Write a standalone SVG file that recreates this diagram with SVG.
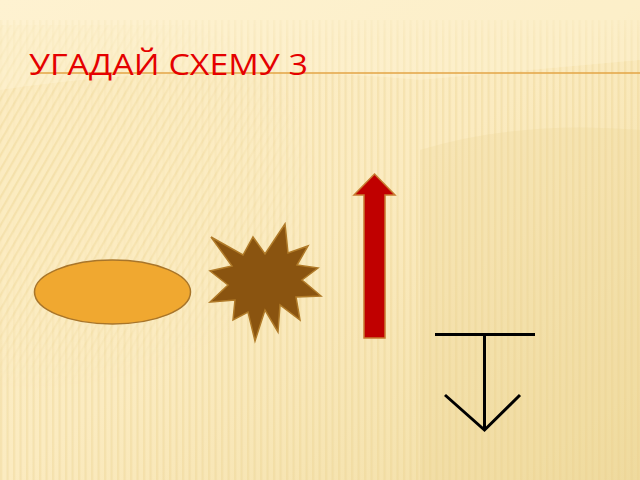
<svg xmlns="http://www.w3.org/2000/svg" width="640" height="480" viewBox="0 0 640 480">
<defs>
<linearGradient id="bg" x1="0" y1="0" x2="1" y2="1">
<stop offset="0" stop-color="#FDF0CC"/>
<stop offset="0.5" stop-color="#FBEBC0"/>
<stop offset="1" stop-color="#F1DDA2"/>
</linearGradient>
<pattern id="vstripe" width="6.5" height="10" patternUnits="userSpaceOnUse">
<rect x="0" y="0" width="2.2" height="10" fill="#E8CF8A" opacity="0.35"/>
</pattern>
<pattern id="dstripe" width="7" height="7" patternUnits="userSpaceOnUse" patternTransform="rotate(30)">
<rect x="0" y="0" width="2.2" height="7" fill="#E8CF8A" opacity="0.4"/>
</pattern>
<linearGradient id="fadeV" x1="0" y1="0" x2="0" y2="1">
<stop offset="0" stop-color="#fff" stop-opacity="0"/>
<stop offset="0.08" stop-color="#fff" stop-opacity="1"/>
<stop offset="1" stop-color="#fff" stop-opacity="1"/>
</linearGradient>
<radialGradient id="fadeD" cx="0.05" cy="0.35" r="0.45">
<stop offset="0" stop-color="#fff" stop-opacity="1"/>
<stop offset="0.6" stop-color="#fff" stop-opacity="0.7"/>
<stop offset="1" stop-color="#fff" stop-opacity="0"/>
</radialGradient>
<mask id="mV"><rect width="640" height="480" fill="url(#fadeV)"/></mask>
<mask id="mD"><rect y="25" width="640" height="455" fill="url(#fadeD)"/></mask>
<style>
.title{font-family:"Open Sans","Noto Sans","DejaVu Sans",sans-serif;font-size:29.5px;fill:#E50000}
.sym{stroke:#000;stroke-width:3;fill:none}
</style>
</defs>
<rect width="640" height="480" fill="url(#bg)"/>
<g mask="url(#mV)">
<rect y="20" width="640" height="460" fill="url(#vstripe)" opacity="0.9"/>
</g>
<g mask="url(#mD)">
<rect y="25" width="640" height="455" fill="#FBEBC0"/>
<rect y="25" width="640" height="455" fill="url(#dstripe)"/>
</g>
<path d="M420,150 Q520,120 640,130 L640,480 L420,480 Z" fill="#EAD394" opacity="0.25"/>
<path d="M0,90 Q200,60 420,80 L640,60 L640,0 L0,0 Z" fill="#FFF6DA" opacity="0.35"/>
<line x1="33" y1="73" x2="640" y2="73" stroke="#E3A446" stroke-width="1.6"/>
<text class="title" x="29" y="74.5" textLength="279" lengthAdjust="spacingAndGlyphs">УГАДАЙ СХЕМУ 3</text>
<g id="ellipse">
<ellipse cx="112.5" cy="292" rx="78" ry="32" fill="#F0A830" stroke="#A8752A" stroke-width="1.5"/>
</g>
<g id="star">
<polygon points="211,237 243,255 253,237 265,254 285,224 288,253 308,246 297,265 318,268 302,280 321,296 296,297 300,320 280,305 278,332 265,310 255,341 248,312 233,320 235,300 210,302 228,285 210,271 232,266" fill="#8A5410" stroke="#B07A28" stroke-width="1.5" stroke-linejoin="miter"/>
</g>
<g id="arrow">
<polygon points="374.5,174 395,195 385,195 385,338 364,338 364,195 354,195" fill="#C00000" stroke="#C87A30" stroke-width="1.5"/>
</g>
<g id="symbol">
<line class="sym" x1="435" y1="334.5" x2="535" y2="334.5"/>
<line class="sym" x1="484.5" y1="334.5" x2="484.5" y2="429"/>
<polyline class="sym" points="445,395 484.5,430 520,395"/>
</g>
</svg>
